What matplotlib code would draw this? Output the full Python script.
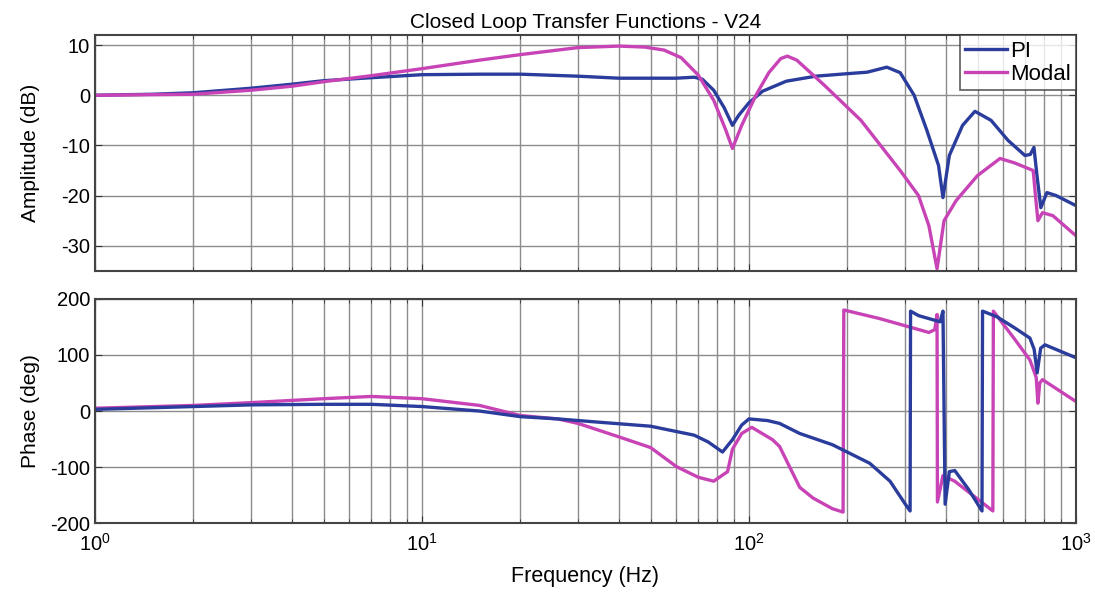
import numpy as np
import matplotlib
matplotlib.use("Agg")
import matplotlib.pyplot as plt
from matplotlib.ticker import LogLocator, NullFormatter

plt.rcParams['font.family'] = ['Liberation Sans', 'DejaVu Sans']
plt.rcParams['axes.unicode_minus'] = False

BLUE = '#2b3d9c'
MAGENTA = '#c844b6'

# amplitude (dB) vs frequency (Hz)
pi_amp_f = [1, 1.5, 2, 3, 4, 5, 7, 10, 15, 20, 30, 40, 50, 60, 68, 72, 78, 84, 89,
            93, 100, 110, 130, 160, 200, 230, 264, 290, 320, 350, 380, 392, 410,
            450, 491, 550, 620, 698, 725, 744, 760, 781, 815, 870, 1000]
pi_amp = [0, 0.2, 0.5, 1.4, 2.2, 2.9, 3.5, 4.1, 4.2, 4.2, 3.8, 3.4, 3.4, 3.4, 3.6, 3.2,
          1.0, -2.5, -6, -4, -1.5, 0.8, 2.8, 3.8, 4.3, 4.6, 5.6, 4.5, 0, -7, -14,
          -20.4, -12, -6, -3.2, -5, -9, -12, -11.8, -10.4, -16, -22.4, -19.4, -20, -22]

modal_amp_f = [1, 2, 3, 4, 5, 7, 10, 15, 20, 30, 40, 48, 55, 62, 70, 78, 85, 89, 95,
               105, 115, 125, 131, 140, 170, 220, 290, 330, 355, 376, 395, 430, 500,
               586, 650, 740, 752, 765, 790, 850, 1000]
modal_amp = [0, 0.2, 1.0, 1.8, 2.7, 3.9, 5.3, 7.0, 8.1, 9.5, 9.8, 9.6, 9.0, 7.5, 4.0,
             -1, -7, -10.6, -6, 0, 4.5, 7.3, 7.8, 7.0, 2.0, -5, -15, -20, -26, -34.6,
             -25, -21, -16, -12.6, -13.5, -15, -20, -25, -23.4, -24, -28]

# phase (deg) vs frequency (Hz)
pi_ph_f = [1, 2, 3, 5, 7, 10, 15, 20, 26, 35, 50, 68, 75, 83, 89, 95, 100, 114, 124,
           143, 180, 234, 270, 300, 311, 312, 330, 384, 392, 398, 410, 426, 470,
           516, 518, 573, 650, 723, 745, 761, 780, 804, 1000]
pi_ph = [3, 8, 11, 12, 12, 8, 0, -10, -14, -20, -27, -43, -55, -73, -51, -25, -14,
         -17, -22, -40, -60, -93, -125, -165, -178, 178, 170, 159, 178, -166, -108,
         -106, -140, -178, 178, 168, 148, 130, 110, 68, 112, 118, 95]

modal_ph_f = [1, 2, 3, 5, 7, 10, 15, 20, 26, 30, 40, 50, 60, 70, 78, 86, 89, 95, 102,
              118, 124, 143, 157, 180, 194, 195, 250, 355, 370, 376, 377, 392, 426,
              557, 559, 642, 723, 756, 765, 775, 790, 1000]
modal_ph = [5, 10, 15, 22, 26, 22, 10, -8, -14, -22, -46, -65, -99, -118, -125, -108,
            -68, -40, -29, -51, -63, -136, -155, -174, -180, 180, 165, 140, 145, 172,
            -162, -115, -125, -178, 178, 132, 91, 60, 14, 50, 56, 17]

fig = plt.figure(figsize=(10.95, 5.94), dpi=100)
ax1 = fig.add_axes([0.0868, 0.544, 0.8958, 0.397])
ax2 = fig.add_axes([0.0868, 0.119, 0.8958, 0.378])

ax1.semilogx(pi_amp_f, pi_amp, color=BLUE, lw=2.4, label='PI')
ax1.semilogx(modal_amp_f, modal_amp, color=MAGENTA, lw=2.4, label='Modal')
ax2.semilogx(modal_ph_f, modal_ph, color=MAGENTA, lw=2.4)
ax2.semilogx(pi_ph_f, pi_ph, color=BLUE, lw=2.4)

ax1.set_ylim(-35, 12)
ax1.set_yticks([-30, -20, -10, 0, 10])
ax2.set_ylim(-200, 200)
ax2.set_yticks([-200, -100, 0, 100, 200])

for ax in (ax1, ax2):
    ax.set_xlim(1, 1000)
    ax.xaxis.set_major_locator(LogLocator(base=10))
    ax.xaxis.set_minor_locator(LogLocator(base=10, subs=np.arange(2, 10)))
    ax.xaxis.set_minor_formatter(NullFormatter())
    ax.grid(True, which='major', color='#8c8c8c', lw=1.0)
    ax.grid(True, which='minor', axis='x', color='#8c8c8c', lw=1.0)
    ax.tick_params(which='both', direction='in', top=True, right=True,
                   labelsize=14.5, color='#333333')
    ax.tick_params(which='major', length=5)
    ax.tick_params(which='minor', length=3)
    for s in ax.spines.values():
        s.set_color('#444444')
        s.set_linewidth(1.5)

ax1.tick_params(labelbottom=False)
ax1.set_ylabel('Amplitude (dB)', fontsize=15)
ax2.set_ylabel('Phase (deg)', fontsize=15)
ax1.yaxis.set_label_coords(-0.056, 0.5)
ax2.yaxis.set_label_coords(-0.056, 0.5)
ax2.set_xlabel('Frequency (Hz)', fontsize=15.5, labelpad=8)
ax2.tick_params(axis='x', pad=7)
ax1.set_title('Closed Loop Transfer Functions - V24', fontsize=15, pad=5)

leg = ax1.legend(loc='upper right', fontsize=16, frameon=True, fancybox=False,
                 handlelength=1.9, handletextpad=0.1, borderpad=0.25,
                 labelspacing=0.1, borderaxespad=0.0)
leg.get_frame().set_edgecolor('#333333')
leg.get_frame().set_linewidth(1.2)

fig.savefig('out.png', dpi=100)
